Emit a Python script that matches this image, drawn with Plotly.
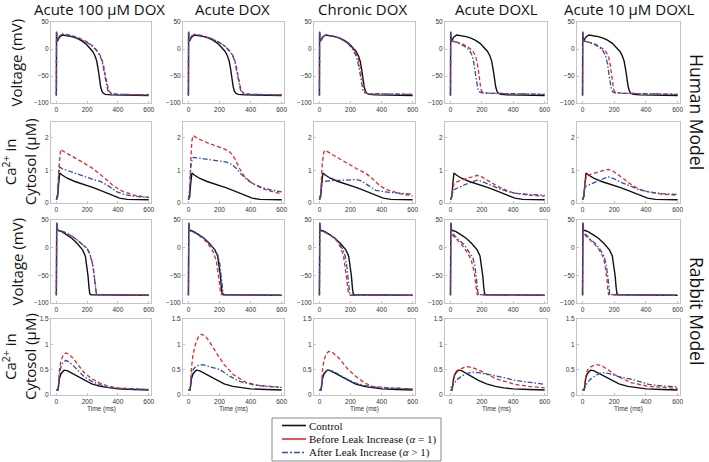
import plotly.graph_objects as go

# ---------------- labels ----------------
COLUMN_TITLES = ["Acute 100 μM DOX", "Acute DOX", "Chronic DOX", "Acute DOXL", "Acute 10 μM DOXL"]
SERIES_NAMES = ["Control", "Before Leak Increase (<i>α</i> = 1)", "After Leak Increase (<i>α</i> > 1)"]
ROW_LABELS = ["Voltage (mV)", "Ca<sup>2+</sup> in<br>Cytosol (μM)", "Voltage (mV)", "Ca<sup>2+</sup> in<br>Cytosol (μM)"]
MODEL_LABELS = ["Human Model", "Rabbit Model"]
TIME_TICKS = [0, 200, 400, 600]
V_TICKS = [-100, -50, 0, 50]
H_CA_TICKS = [0, 1, 2]
R_CA_TICKS = [0, 0.5, 1, 1.5]

# ---------------- Human action potentials (t ms, mV) ----------------
H_AP_CTRL = [(0,-86),(1,32),(3,20),(8,15),(20,22),(40,26),(70,25),(100,23),(130,20),(160,16),(190,10),(215,3),(235,-4),(250,-12),(262,-22),(272,-38),(280,-55),(288,-70),(296,-78),(305,-82),(320,-84),(360,-85),(600,-86)]
H_AP_B1 = [(0,-86),(1,32),(3,20),(8,16),(20,24),(40,28),(70,27),(100,25),(150,20),(200,13),(240,5),(270,-5),(290,-15),(305,-28),(318,-48),(328,-65),(338,-76),(350,-81),(370,-83),(400,-84),(600,-85)]
H_AP_A1 = [(0,-86),(1,32),(3,20),(8,16),(20,24),(40,27),(70,26),(100,24),(150,19),(200,12),(240,4),(270,-6),(290,-17),(303,-30),(315,-50),(325,-66),(335,-77),(348,-81),(370,-83),(400,-84),(600,-85)]
H_AP_B2 = [(0,-86),(1,32),(3,20),(8,16),(20,24),(40,27),(70,26),(100,24),(150,19),(200,12),(240,4),(270,-5),(290,-14),(305,-27),(318,-47),(328,-64),(338,-76),(350,-81),(370,-83),(400,-84),(600,-85)]
H_AP_A2 = [(0,-86),(1,32),(3,20),(8,16),(20,24),(40,27),(70,26),(100,24),(150,19),(200,12),(240,4),(270,-6),(290,-16),(303,-29),(316,-49),(326,-66),(336,-77),(348,-81),(370,-83),(400,-84),(600,-85)]
H_AP_B3 = [(0,-86),(1,32),(3,20),(8,15),(20,22),(40,26),(70,25),(100,23),(130,20),(160,15),(190,9),(215,1),(235,-8),(250,-18),(262,-32),(272,-50),(280,-66),(290,-77),(300,-81),(320,-83),(600,-84)]
H_AP_A3 = [(0,-86),(1,32),(3,20),(8,15),(20,22),(40,26),(70,25),(100,23),(130,20),(160,15),(190,8),(212,0),(230,-9),(243,-20),(255,-35),(264,-52),(272,-68),(281,-78),(292,-81),(315,-83),(600,-84)]
H_AP_B4 = [(0,-86),(1,32),(3,18),(8,14),(20,14),(50,12),(80,9),(110,4),(140,-3),(155,-10),(168,-22),(178,-40),(186,-60),(193,-74),(200,-79),(215,-81),(260,-82),(600,-84)]
H_AP_A4 = [(0,-86),(1,32),(3,18),(8,14),(20,14),(50,11),(80,7),(100,3),(120,-2),(135,-10),(148,-25),(158,-45),(166,-62),(174,-74),(182,-79),(200,-81),(260,-82),(600,-84)]
H_AP_B5 = [(0,-86),(1,32),(3,18),(8,14),(20,14),(50,12),(80,9),(110,4),(135,-1),(150,-6),(165,-15),(175,-30),(183,-50),(190,-66),(197,-76),(205,-80),(220,-81),(260,-82),(600,-84)]
H_AP_A5 = [(0,-86),(1,32),(3,18),(8,14),(20,14),(50,11),(80,8),(110,2),(130,-4),(145,-12),(158,-28),(167,-48),(175,-66),(183,-76),(192,-80),(210,-81),(260,-82),(600,-84)]

# ---------------- Human cytosolic Ca2+ (t ms, μM) ----------------
H_CA_CTRL = [(0,0.1),(8,0.2),(15,0.6),(22,0.92),(40,0.85),(70,0.76),(120,0.66),(180,0.57),(240,0.47),(290,0.38),(330,0.3),(370,0.22),(410,0.15),(460,0.11),(520,0.1),(600,0.1)]
H_CA_B1 = [(0,0.1),(8,0.3),(15,1.0),(22,1.5),(28,1.65),(40,1.6),(100,1.45),(178,1.23),(240,1.05),(286,0.88),(330,0.7),(372,0.52),(430,0.36),(502,0.24),(560,0.19),(600,0.17)]
H_CA_A1 = [(0,0.1),(8,0.3),(15,0.8),(22,1.1),(40,1.05),(100,0.95),(178,0.81),(240,0.72),(286,0.66),(330,0.55),(394,0.34),(450,0.25),(502,0.21),(600,0.17)]
H_CA_B2 = [(0,0.1),(8,0.4),(15,1.3),(22,1.9),(30,2.07),(60,1.98),(120,1.85),(180,1.74),(230,1.66),(268,1.56),(300,1.35),(330,1.05),(360,0.82),(400,0.64),(450,0.5),(500,0.4),(550,0.33),(600,0.28)]
H_CA_A2 = [(0,0.1),(8,0.4),(15,1.1),(25,1.38),(36,1.4),(100,1.36),(180,1.31),(240,1.26),(280,1.18),(310,1.05),(340,0.88),(380,0.7),(420,0.58),(470,0.48),(530,0.4),(600,0.34)]
H_CA_B3 = [(0,0.1),(8,0.3),(18,1.2),(28,1.55),(35,1.62),(60,1.55),(120,1.38),(180,1.2),(240,1.05),(298,0.91),(340,0.75),(384,0.55),(427,0.42),(514,0.29),(600,0.21)]
H_CA_A3 = [(0,0.1),(8,0.3),(15,0.6),(22,0.66),(60,0.68),(120,0.7),(180,0.72),(240,0.72),(270,0.68),(310,0.55),(363,0.39),(420,0.34),(500,0.3),(600,0.27)]
H_CA_B4 = [(0,0.1),(8,0.2),(15,0.45),(22,0.6),(50,0.67),(100,0.75),(140,0.82),(170,0.85),(200,0.8),(250,0.65),(304,0.5),(360,0.38),(411,0.3),(500,0.24),(600,0.21)]
H_CA_A4 = [(0,0.1),(8,0.2),(18,0.4),(50,0.48),(100,0.58),(140,0.65),(170,0.7),(200,0.66),(250,0.55),(304,0.45),(360,0.36),(411,0.3),(500,0.26),(600,0.24)]
H_CA_B5 = [(0,0.1),(8,0.25),(15,0.6),(25,0.85),(50,0.88),(100,0.96),(140,1.01),(165,1.03),(200,0.95),(250,0.78),(311,0.55),(360,0.42),(418,0.34),(500,0.27),(600,0.24)]
H_CA_A5 = [(0,0.1),(8,0.2),(15,0.5),(50,0.58),(100,0.68),(140,0.76),(165,0.8),(200,0.74),(250,0.62),(311,0.5),(360,0.4),(418,0.34),(500,0.29),(600,0.26)]

# ---------------- Rabbit action potentials (t ms, mV) ----------------
R_AP_CTRL = [(0,-86),(2,45),(5,32),(15,31),(35,29),(68,23),(100,17),(134,8),(170,-4),(188,-15),(198,-32),(206,-52),(212,-72),(217,-83),(225,-85),(600,-86)]
R_AP_B1 = [(0,-86),(2,45),(5,32),(15,31),(35,30),(68,26),(100,21),(134,14),(170,6),(199,-1),(215,-10),(232,-25),(242,-42),(249,-62),(255,-78),(260,-84),(270,-85),(600,-86)]
R_AP_A1 = [(0,-86),(2,45),(5,32),(15,31),(35,30),(68,26),(100,21),(134,14),(170,6),(199,-1),(215,-10),(232,-25),(242,-42),(249,-62),(255,-78),(260,-84),(270,-85),(600,-86)]
R_AP_B2 = [(0,-86),(2,45),(5,31),(15,30),(35,28),(68,22),(100,15),(134,4),(160,-8),(180,-25),(192,-45),(200,-65),(206,-80),(212,-85),(600,-86)]
R_AP_A2 = [(0,-86),(2,45),(5,31),(15,30),(35,28),(68,23),(100,17),(134,8),(170,-4),(190,-14),(202,-30),(210,-50),(217,-70),(223,-82),(230,-85),(600,-86)]
R_AP_B3 = [(0,-86),(2,45),(5,31),(15,30),(35,28),(68,23),(100,16),(124,8),(140,-2),(155,-15),(167,-35),(176,-58),(183,-75),(189,-84),(200,-86),(600,-86)]
R_AP_A3 = [(0,-86),(2,45),(5,31),(15,30),(35,28),(68,23),(100,17),(130,7),(150,-3),(165,-15),(177,-35),(185,-58),(191,-75),(196,-84),(205,-86),(600,-86)]
R_AP_B4 = [(0,-86),(2,45),(5,26),(15,22),(30,18),(47,14),(70,6),(89,-1),(110,-10),(132,-22),(145,-35),(153,-47),(159,-63),(164,-80),(170,-85),(600,-86)]
R_AP_A4 = [(0,-86),(2,45),(5,29),(15,25),(30,20),(50,15),(89,5),(115,-6),(143,-19),(155,-32),(164,-50),(170,-68),(174,-80),(180,-85),(600,-86)]
R_AP_B5 = [(0,-86),(2,45),(5,27),(15,23),(30,19),(50,14),(80,5),(105,-4),(128,-16),(142,-30),(150,-46),(156,-63),(160,-78),(165,-85),(600,-86)]
R_AP_A5 = [(0,-86),(2,45),(5,29),(15,25),(30,20),(50,15),(85,6),(110,-3),(135,-15),(148,-29),(157,-46),(163,-64),(167,-78),(172,-85),(600,-86)]

# ---------------- Rabbit cytosolic Ca2+ (t ms, μM) ----------------
R_CA_CTRL = [(0,0.1),(10,0.1),(15,0.2),(20,0.33),(30,0.42),(50,0.49),(70,0.48),(100,0.43),(140,0.36),(178,0.29),(230,0.22),(286,0.17),(340,0.14),(400,0.12),(500,0.11),(600,0.1)]
R_CA_B1 = [(0,0.1),(10,0.1),(15,0.25),(20,0.5),(30,0.68),(45,0.79),(60,0.83),(80,0.81),(110,0.72),(140,0.6),(178,0.45),(230,0.32),(286,0.23),(340,0.17),(400,0.14),(500,0.12),(600,0.11)]
R_CA_A1 = [(0,0.1),(10,0.1),(15,0.22),(20,0.42),(30,0.56),(45,0.65),(60,0.68),(80,0.66),(110,0.58),(140,0.48),(178,0.37),(230,0.27),(286,0.2),(340,0.15),(400,0.13),(500,0.12),(600,0.11)]
R_CA_B2 = [(0,0.1),(10,0.1),(15,0.3),(20,0.55),(30,0.8),(45,1.0),(65,1.15),(85,1.2),(110,1.16),(140,1.03),(180,0.83),(230,0.6),(290,0.4),(370,0.25),(450,0.19),(600,0.15)]
R_CA_A2 = [(0,0.1),(10,0.1),(15,0.25),(20,0.4),(30,0.5),(50,0.57),(90,0.6),(130,0.57),(204,0.5),(260,0.38),(330,0.27),(420,0.2),(499,0.17),(600,0.15)]
R_CA_B3 = [(0,0.1),(10,0.1),(15,0.25),(20,0.5),(30,0.7),(45,0.82),(60,0.86),(80,0.85),(125,0.73),(180,0.52),(233,0.37),(290,0.24),(341,0.17),(450,0.14),(600,0.12)]
R_CA_A3 = [(0,0.1),(10,0.1),(15,0.2),(20,0.35),(30,0.44),(50,0.49),(70,0.49),(100,0.45),(140,0.38),(180,0.31),(230,0.24),(286,0.19),(340,0.16),(400,0.14),(500,0.13),(600,0.12)]
R_CA_B4 = [(0,0.1),(10,0.1),(15,0.2),(25,0.4),(40,0.48),(60,0.51),(85,0.54),(110,0.56),(140,0.54),(196,0.47),(250,0.38),(302,0.31),(360,0.25),(409,0.21),(500,0.17),(600,0.14)]
R_CA_A4 = [(0,0.15),(10,0.16),(20,0.22),(40,0.3),(70,0.37),(100,0.42),(140,0.45),(180,0.44),(250,0.4),(302,0.37),(360,0.33),(409,0.29),(500,0.25),(600,0.21)]
R_CA_B5 = [(0,0.1),(10,0.1),(15,0.25),(25,0.45),(40,0.53),(60,0.57),(90,0.6),(120,0.58),(160,0.5),(204,0.4),(260,0.31),(311,0.24),(418,0.17),(500,0.15),(600,0.13)]
R_CA_A5 = [(0,0.1),(10,0.11),(20,0.18),(35,0.26),(50,0.31),(80,0.38),(110,0.43),(130,0.44),(170,0.42),(230,0.36),(311,0.31),(360,0.26),(418,0.21),(500,0.18),(600,0.16)]

ROWS = [
    (H_AP_CTRL, [H_AP_B1, H_AP_B2, H_AP_B3, H_AP_B4, H_AP_B5], [H_AP_A1, H_AP_A2, H_AP_A3, H_AP_A4, H_AP_A5]),
    (H_CA_CTRL, [H_CA_B1, H_CA_B2, H_CA_B3, H_CA_B4, H_CA_B5], [H_CA_A1, H_CA_A2, H_CA_A3, H_CA_A4, H_CA_A5]),
    (R_AP_CTRL, [R_AP_B1, R_AP_B2, R_AP_B3, R_AP_B4, R_AP_B5], [R_AP_A1, R_AP_A2, R_AP_A3, R_AP_A4, R_AP_A5]),
    (R_CA_CTRL, [R_CA_B1, R_CA_B2, R_CA_B3, R_CA_B4, R_CA_B5], [R_CA_A1, R_CA_A2, R_CA_A3, R_CA_A4, R_CA_A5]),
]

# ---------------- layout geometry (pixels) ----------------
W, H = 709, 462
COL_PX = [(51, 151), (183, 284), (314, 415), (445, 547), (577, 680)]
ROW_PX = [(22, 103), (121.5, 203), (220, 303), (319, 395)]
Y_RANGES = [(-100, 50), (0, 2.5), (-100, 50), (0, 1.5)]
Y_TICKS = [V_TICKS, H_CA_TICKS, V_TICKS, R_CA_TICKS]
X_RANGE = (-35, 615)

STYLES = [
    dict(color="#111111", width=1.4, dash="solid"),
    dict(color="#e0282e", width=1.3, dash="4px,2.5px"),
    dict(color="#2f4fa8", width=1.3, dash="5px,2px,1.5px,2px"),
]

fig = go.Figure()
layout = {}
for r in range(4):
    ctrl, befores, afters = ROWS[r]
    for c in range(5):
        k = r * 5 + c + 1
        xa = "x" if k == 1 else f"x{k}"
        ya = "y" if k == 1 else f"y{k}"
        for s, series in enumerate([ctrl, befores[c], afters[c]]):
            fig.add_trace(go.Scatter(
                x=[p[0] for p in series], y=[p[1] for p in series],
                mode="lines", line=STYLES[s], name=SERIES_NAMES[s],
                showlegend=False, xaxis=xa, yaxis=ya, hoverinfo="skip"))
        x0, x1 = COL_PX[c]
        y0, y1 = ROW_PX[r]
        axcommon = dict(showline=True, mirror=True, linecolor="#c4c4c4", linewidth=1,
                        showgrid=False, zeroline=False, ticks="inside", ticklen=2,
                        tickcolor="#c4c4c4", tickfont=dict(size=6.5, color="#333",
                        family="Liberation Sans"))
        layout["xaxis" if k == 1 else f"xaxis{k}"] = dict(
            domain=[x0 / W, x1 / W], range=list(X_RANGE), tickvals=TIME_TICKS,
            anchor=ya, **axcommon)
        layout["yaxis" if k == 1 else f"yaxis{k}"] = dict(
            domain=[1 - y1 / H, 1 - y0 / H], range=list(Y_RANGES[r]),
            tickvals=Y_TICKS[r], anchor=xa, **axcommon)

def px(xp, yp):
    return xp / W, 1 - yp / H

ann = []
shapes = []
TITLE_X = [99, 232, 362, 496, 629]
for c, t in enumerate(COLUMN_TITLES):
    ax_, ay_ = px(TITLE_X[c], 9)
    ann.append(dict(x=ax_, y=ay_, text=t, showarrow=False,
                    xref="paper", yref="paper", xanchor="center", yanchor="middle",
                    font=dict(size=15, family="Open Sans", color="#111")))
    ax_, ay_ = px((COL_PX[c][0] + COL_PX[c][1]) / 2, 409)
    ann.append(dict(x=ax_, y=ay_, text="Time (ms)",
                    showarrow=False, xref="paper", yref="paper", xanchor="center",
                    yanchor="middle", font=dict(size=6.5, family="Liberation Sans", color="#333")))
ROW_LABEL_X = [16, 19, 16, 19]
for r, t in enumerate(ROW_LABELS):
    ax_, ay_ = px(ROW_LABEL_X[r], (ROW_PX[r][0] + ROW_PX[r][1]) / 2)
    ann.append(dict(x=ax_, y=ay_, text=t,
                    textangle=-90, showarrow=False, xref="paper", yref="paper",
                    xanchor="center", yanchor="middle",
                    font=dict(size=15, family="Open Sans", color="#111")))
MODEL_Y = [112, 311]
for i, t in enumerate(MODEL_LABELS):
    ax_, ay_ = px(697, MODEL_Y[i])
    ann.append(dict(x=ax_, y=ay_, text=t, textangle=90, showarrow=False,
                    xref="paper", yref="paper", xanchor="center", yanchor="middle",
                    font=dict(size=17.5, family="Open Sans", color="#111")))

# legend (drawn manually for compact MATLAB-like spacing)
LEG_BOX = (272, 418, 441, 461)
bx0, by0 = px(LEG_BOX[0], LEG_BOX[1])
bx1, by1 = px(LEG_BOX[2], LEG_BOX[3])
shapes.append(dict(type="rect", xref="paper", yref="paper", x0=bx0, x1=bx1, y0=by1, y1=by0,
                   line=dict(color="#888", width=1), fillcolor="white"))
LEG_ROWS_Y = [425.5, 439, 452.5]
for s in range(3):
    lx0, ly = px(282, LEG_ROWS_Y[s])
    lx1, _ = px(306, LEG_ROWS_Y[s])
    shapes.append(dict(type="line", xref="paper", yref="paper", x0=lx0, x1=lx1, y0=ly, y1=ly,
                       line=dict(color=STYLES[s]["color"], width=1.6,
                                 dash="solid" if s < 2 else "6px,2px,2px,2px")))
    tx, ty = px(307, LEG_ROWS_Y[s])
    ann.append(dict(x=tx, y=ty, text=SERIES_NAMES[s], showarrow=False, xref="paper",
                    yref="paper", xanchor="left", yanchor="middle",
                    font=dict(size=11, family="Liberation Serif", color="#111")))

fig.update_layout(
    width=W, height=H, margin=dict(l=0, r=0, t=0, b=0, autoexpand=False),
    paper_bgcolor="white", plot_bgcolor="white",
    annotations=ann, shapes=shapes, showlegend=False,
    **layout)

fig.write_html("out.html", config={"displayModeBar": False},
               post_script="document.body.style.margin='0';document.body.style.overflow='hidden';")
